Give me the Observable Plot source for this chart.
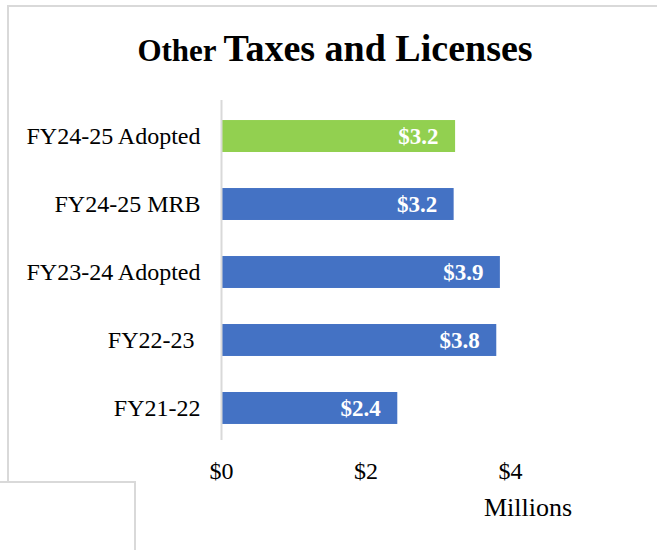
<!DOCTYPE html>
<html>
<head>
<meta charset="utf-8">
<script src="https://cdn.jsdelivr.net/npm/d3@7"></script>
<script src="https://cdn.jsdelivr.net/npm/@observablehq/plot@0.6"></script>
<style>
  html, body { margin: 0; padding: 0; background: #fff; }
  #page { position: relative; width: 657px; height: 550px; overflow: hidden; background: #fff; font-family: "Liberation Serif", "Times New Roman", serif; }
  .line { position: absolute; background: #d9d9d9; }
  #title { position: absolute; left: 0; top: 28px; width: 670px; text-align: center; font-weight: bold; line-height: 41px; white-space: nowrap; color: #000; font-family: "Liberation Serif", "Times New Roman", serif; }
  #title .small { font-size: 31px; }
  #title .big { font-size: 38px; margin-left: 3px; }
  #chart { position: absolute; left: 0; top: 80px; }
  #unit { position: absolute; left: 484px; top: 494px; font-size: 26px; line-height: 28px; color: #000; }
</style>
</head>
<body>
<div id="page">
  <div class="line" style="left:7px;top:5px;width:650px;height:2px;"></div>
  <div class="line" style="left:7px;top:5px;width:2px;height:477px;"></div>
  <div class="line" style="left:0px;top:481px;width:136px;height:2px;"></div>
  <div class="line" style="left:134px;top:481px;width:2px;height:69px;"></div>
  <div id="title"><span class="small">Other</span> <span class="big">Taxes and Licenses</span></div>
  <div id="chart"></div>
  <div id="unit">Millions</div>
</div>
<script>
const categories = ["FY24-25 Adopted", "FY24-25 MRB", "FY23-24 Adopted", "FY22-23\u00a0", "FY21-22"];
const values = [3.24, 3.22, 3.86, 3.81, 2.44];
const barColors = ["#92D050", "#4472C4", "#4472C4", "#4472C4", "#4472C4"];
const xTicks = [0, 2, 4];

const data = categories.map((c, i) => ({category: c, value: values[i], color: barColors[i]}));

const chart = Plot.plot({
  width: 657,
  height: 450,
  marginLeft: 221,
  marginRight: 2.5,
  marginTop: 20,
  marginBottom: 90,
  style: {fontFamily: "'Liberation Serif', 'Times New Roman', serif", fontSize: "24px", color: "#000", background: "transparent"},
  x: {domain: [0, 6], ticks: xTicks, tickFormat: d => "$" + d, tickSize: 0, tickPadding: 21, label: null},
  y: {domain: categories, range: [4, 380], paddingInner: 0.53, paddingOuter: 0.53, round: false, tickSize: 0, tickPadding: 21, label: null},
  marks: [
    Plot.barX(data, {x: "value", y: "category", fill: "color"}),
    Plot.ruleX([0], {stroke: "#d9d9d9", strokeWidth: 2}),
    Plot.text(data, {x: "value", y: "category", text: d => "$" + d.value.toFixed(1), textAnchor: "end", dx: -17, fill: "#fff", fontWeight: "bold", fontSize: 23})
  ]
});
document.getElementById("chart").appendChild(chart);
</script>
</body>
</html>
